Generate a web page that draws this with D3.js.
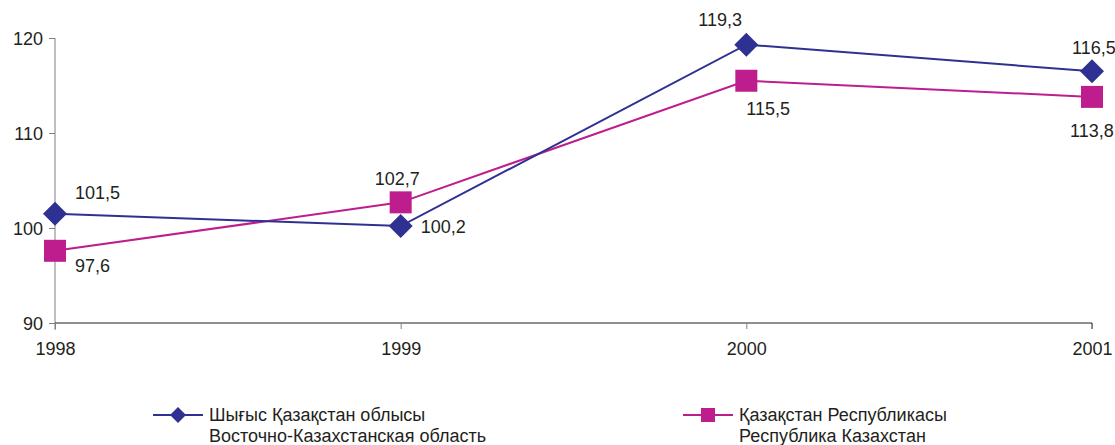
<!DOCTYPE html>
<html>
<head>
<meta charset="utf-8">
<script src="https://cdn.jsdelivr.net/npm/d3@7"></script>
<style>
  html, body { margin: 0; padding: 0; background: #fff; }
  svg { display: block; font-family: "Liberation Sans", Arial, sans-serif; }
</style>
</head>
<body>
<svg id="chart" width="1115" height="445"></svg>
<script>
// Years and index values for the two series
const years = ["1998", "1999", "2000", "2001"];
const eastKz = [101.5, 100.2, 119.3, 116.5];
const kazakhstan = [97.6, 102.7, 115.5, 113.8];
const yTicks = [90, 100, 110, 120];
const legendEast = ["Шығыс Қазақстан облысы", "Восточно-Казахстанская область"];
const legendKz = ["Қазақстан Республикасы", "Республика Казахстан"];

const navy = "#2E3192";
const magenta = "#BE1E8D";
const textColor = "#231F20";
const fontSize = "18px";

const svg = d3.select("#chart");
const x = d3.scalePoint().domain(years).range([55, 1092]);
const y = d3.scaleLinear().domain([90, 120]).range([323, 38]);

const fmt = v => String(v.toFixed(1)).replace(".", ",");

// Y axis
const yAxis = svg.append("g")
  .attr("transform", "translate(55,0)")
  .call(d3.axisLeft(y).tickValues(yTicks).tickSize(6).tickFormat(d3.format("d")));
yAxis.select(".domain").attr("stroke", "#808080").attr("d", "M0,38V330");
yAxis.selectAll(".tick line").attr("stroke", "#808080");
yAxis.selectAll(".tick text")
  .attr("x", -12).attr("dy", "0.35em")
  .attr("fill", textColor).style("font-size", fontSize)
  .style("font-family", "'Liberation Sans', Arial, sans-serif");

// X axis
const xAxis = svg.append("g")
  .attr("transform", "translate(0,323)")
  .call(d3.axisBottom(x).tickSize(6).tickSizeOuter(0));
xAxis.select(".domain").attr("stroke", textColor).attr("d", "M55,0H1092V6");
xAxis.selectAll(".tick line").attr("stroke", "#808080");
xAxis.selectAll(".tick text")
  .attr("y", 26).attr("dy", "0.35em")
  .attr("fill", textColor).style("font-size", fontSize)
  .style("font-family", "'Liberation Sans', Arial, sans-serif");

const line = d3.line().x((d, i) => x(years[i])).y(d => y(d));

// Series lines
svg.append("path").datum(kazakhstan).attr("d", line)
  .attr("fill", "none").attr("stroke", magenta).attr("stroke-width", 2);
svg.append("path").datum(eastKz).attr("d", line)
  .attr("fill", "none").attr("stroke", navy).attr("stroke-width", 2);

// Markers
const diamond = (cx, cy, r) => `M${cx},${cy - r}L${cx + r},${cy}L${cx},${cy + r}L${cx - r},${cy}Z`;
svg.selectAll("rect.kz").data(kazakhstan).enter().append("rect")
  .attr("x", (d, i) => x(years[i]) - 11).attr("y", d => y(d) - 11)
  .attr("width", 22).attr("height", 22).attr("fill", magenta);
svg.selectAll("path.east").data(eastKz).enter().append("path")
  .attr("d", (d, i) => diamond(x(years[i]), y(d), 12)).attr("fill", navy);

// Value labels: [dx, dy to baseline]
const eastOffsets = [[20, -15], [20, 7], [-48, -19], [-20, -17]];
const kzOffsets = [[20, 21], [-26, -17], [0, 34], [-22, 40]];
const labelStyle = sel => sel.attr("fill", textColor).style("font-size", fontSize);

svg.selectAll("text.east").data(eastKz).enter().append("text")
  .attr("x", (d, i) => x(years[i]) + eastOffsets[i][0])
  .attr("y", (d, i) => y(d) + eastOffsets[i][1])
  .text(fmt).call(labelStyle);
svg.selectAll("text.kz").data(kazakhstan).enter().append("text")
  .attr("x", (d, i) => x(years[i]) + kzOffsets[i][0])
  .attr("y", (d, i) => y(d) + kzOffsets[i][1])
  .text(fmt).call(labelStyle);

// Legend
function legendItem(lx, color, marker, lines) {
  const g = svg.append("g");
  g.append("line").attr("x1", lx).attr("x2", lx + 50).attr("y1", 415).attr("y2", 415)
    .attr("stroke", color).attr("stroke-width", 2);
  if (marker === "diamond") {
    g.append("path").attr("d", diamond(lx + 25, 415, 8)).attr("fill", color);
  } else {
    g.append("rect").attr("x", lx + 18).attr("y", 408).attr("width", 14).attr("height", 14).attr("fill", color);
  }
  lines.forEach((t, i) => {
    g.append("text").attr("x", lx + 56).attr("y", 421 + i * 21)
      .attr("fill", textColor).style("font-size", fontSize).text(t);
  });
}
legendItem(153, navy, "diamond", legendEast);
legendItem(683, magenta, "square", legendKz);
</script>
</body>
</html>
